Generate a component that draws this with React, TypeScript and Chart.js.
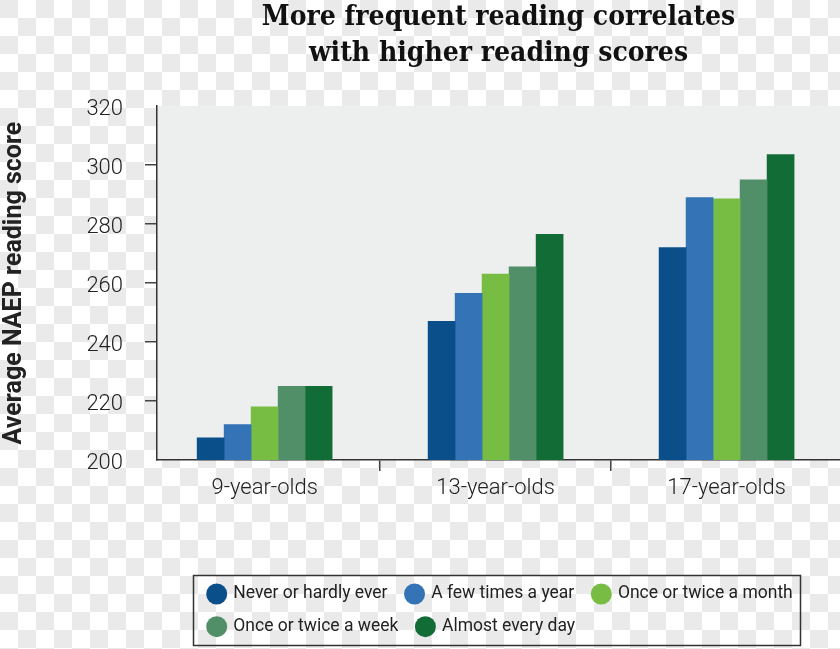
import { useEffect, useRef } from 'react';
import { Chart, registerables } from 'chart.js';

Chart.register(...registerables);

const categories = ['9-year-olds', '13-year-olds', '17-year-olds'];
const seriesLabels = [
  'Never or hardly ever',
  'A few times a year',
  'Once or twice a month',
  'Once or twice a week',
  'Almost every day',
];
const seriesColors = ['#0B4F8A', '#3474B6', '#77BD43', '#508F67', '#126C36'];
const neverValues = [207.5, 247, 272];
const fewTimesYearValues = [212, 256.5, 289];
const monthlyValues = [218, 263, 288.5];
const weeklyValues = [225, 265.5, 295];
const dailyValues = [225, 276.5, 303.5];
const seriesValues = [neverValues, fewTimesYearValues, monthlyValues, weeklyValues, dailyValues];
const yMin = 200;
const yMax = 320;
const yStep = 20;
const titleLines = ['More frequent reading correlates', 'with higher reading scores'];
const yTitle = 'Average NAEP reading score';

// x positions: categories at 0,1,2 ; tick marks between them
const xTickValues: number[] = [];
categories.forEach((_, i) => {
  xTickValues.push(i);
  if (i < categories.length - 1) xTickValues.push(i + 0.5);
});

const plotBackground = {
  id: 'plotBackground',
  beforeDraw(chart: any) {
    const { ctx, chartArea: a } = chart;
    ctx.save();
    ctx.fillStyle = '#EDEEEE';
    ctx.fillRect(a.left, a.top, a.right - a.left, a.bottom - a.top);
    ctx.restore();
  },
};

const boxLegend = {
  id: 'boxLegend',
  afterDraw(chart: any) {
    const ctx = chart.ctx;
    const datasets = chart.data.datasets;
    ctx.save();
    ctx.lineWidth = 1.5;
    ctx.strokeStyle = '#333';
    ctx.strokeRect(193.5, 575.5, 607, 70);
    ctx.font = '400 17.5px Roboto';
    ctx.textBaseline = 'middle';
    ctx.textAlign = 'left';
    const r = 10.5;
    const textGap = 16.6;
    const itemGap = 27;
    const x0 = 216.7;
    const rowRight = 798;
    let x = x0;
    let y = 594;
    datasets.forEach((ds: any, i: number) => {
      const label = String(ds.label);
      const w = ctx.measureText(label).width;
      if (i > 0 && x + textGap + w > rowRight) {
        x = x0;
        y += 32.7;
      }
      ctx.fillStyle = ds.backgroundColor;
      ctx.beginPath();
      ctx.arc(x, y, r, 0, Math.PI * 2);
      ctx.fill();
      ctx.fillStyle = '#222';
      ctx.fillText(label, x + textGap, y);
      x += textGap + w + itemGap;
    });
    ctx.restore();
  },
};

export default function App() {
  const canvasRef = useRef<HTMLCanvasElement | null>(null);

  useEffect(() => {
    if (!canvasRef.current) return;
    const chart = new Chart(canvasRef.current, {
      type: 'bar',
      data: {
        datasets: seriesLabels.map((label, s) => ({
          label,
          backgroundColor: seriesColors[s],
          borderWidth: 0,
          barThickness: 27,
          data: categories.map((_, i) => ({ x: i, y: seriesValues[s][i] })),
        })),
      },
      options: {
        responsive: false,
        animation: false,
        devicePixelRatio: 1,
        layout: { padding: { top: 0, left: 0, right: 0, bottom: 139 } },
        plugins: {
          legend: { display: false },
          tooltip: { enabled: false },
          title: {
            display: true,
            text: titleLines,
            fullSize: false,
            color: '#111',
            font: {
              family: '"DejaVu Serif Condensed", "DejaVu Serif", serif',
              size: 28,
              weight: 'bold',
              lineHeight: 1.27,
            },
            padding: { top: 0, bottom: 34.9 },
          },
        },
        scales: {
          x: {
            type: 'linear',
            offset: false,
            bounds: 'data',
            min: -0.466,
            max: 2.491,
            afterFit: (s: any) => {
              s.height = 50;
            },
            afterBuildTicks: (s: any) => {
              s.ticks = xTickValues.map((v) => ({ value: v }));
            },
            ticks: {
              autoSkip: false,
              maxRotation: 0,
              minRotation: 0,
              padding: 4,
              color: '#222',
              font: { family: 'Roboto', size: 22, weight: '300' },
              callback: (v: any) => (Number.isInteger(v) ? categories[v] : ''),
            },
            grid: {
              offset: false,
              drawOnChartArea: false,
              drawTicks: true,
              tickLength: 11,
              lineWidth: 1.5,
              tickColor: (ctx: any) =>
                ctx.tick && !Number.isInteger(ctx.tick.value) ? '#444' : 'rgba(0,0,0,0)',
            },
            border: { display: true, color: '#333', width: 1.5 },
          },
          y: {
            min: yMin,
            max: yMax,
            afterFit: (s: any) => {
              s.width = 157;
            },
            ticks: {
              stepSize: yStep,
              padding: 22,
              labelOffset: 3,
              color: '#222',
              font: { family: 'Roboto', size: 22, weight: '300' },
            },
            grid: {
              drawOnChartArea: false,
              drawTicks: true,
              tickLength: 12,
              lineWidth: 1.5,
              tickColor: (ctx: any) =>
                ctx.tick && ctx.tick.value !== yMin && ctx.tick.value !== yMax
                  ? '#444'
                  : 'rgba(0,0,0,0)',
            },
            border: { display: true, color: '#333', width: 1.5 },
            title: {
              display: true,
              text: yTitle,
              color: '#222',
              font: { family: 'Roboto', size: 25, weight: 'bold' },
              padding: { top: 0, bottom: 0 },
            },
          },
        },
      },
      plugins: [plotBackground, boxLegend],
    } as any);
    return () => chart.destroy();
  }, []);

  return (
    <div
      style={{
        position: 'absolute',
        left: 0,
        top: 0,
        width: 840,
        height: 649,
        backgroundColor: '#fff',
        backgroundImage:
          'conic-gradient(#fff 25%, #eaeaea 0 50%, #fff 0 75%, #eaeaea 0)',
        backgroundSize: '36px 36px',
      }}
    >
      <canvas ref={canvasRef} width={840} height={649} style={{ display: 'block' }} />
    </div>
  );
}
